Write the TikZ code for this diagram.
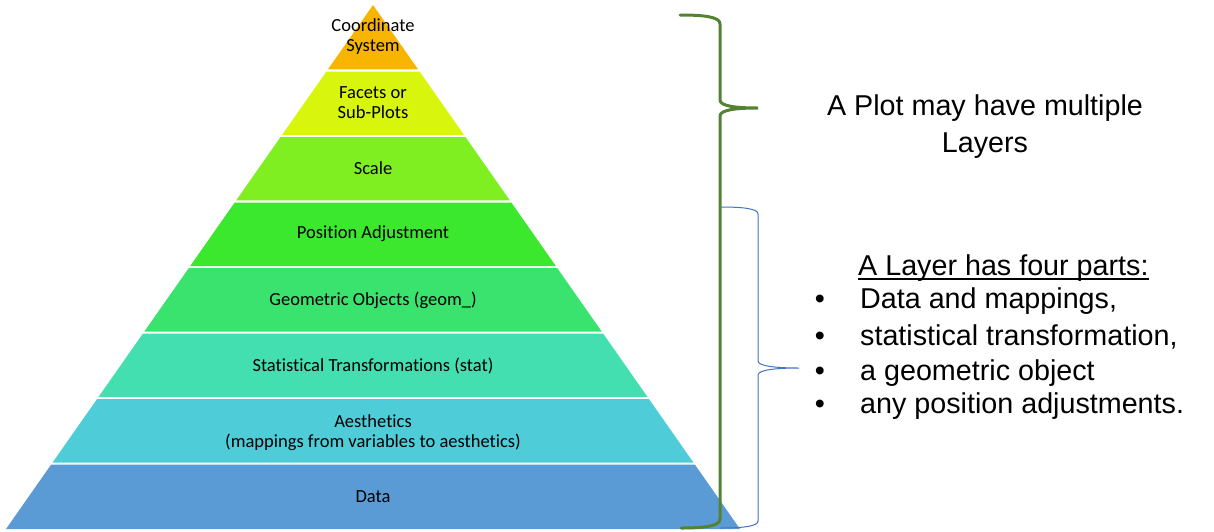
\documentclass[tikz,border=0pt]{standalone}
\usepackage{fontspec}
\newfontfamily\calib[Ligatures=NoCommon]{Carlito}
\newfontfamily\arialf{Liberation Sans}
\usetikzlibrary{calc}
\definecolor{cCoord}{HTML}{F7B500}
\definecolor{cFacet}{HTML}{D8F50E}
\definecolor{cScale}{HTML}{7FEF22}
\definecolor{cPos}{HTML}{3BE82E}
\definecolor{cGeom}{HTML}{3AE36E}
\definecolor{cStat}{HTML}{44DFB0}
\definecolor{cAes}{HTML}{4ECDD8}
\definecolor{cData}{HTML}{5B9BD5}
\definecolor{gBrace}{HTML}{548235}
\definecolor{bBrace}{HTML}{4472C4}
\tikzset{
  lay/.style={font=\calib\fontsize{18.5}{20}\selectfont, align=center, text=black, inner sep=0pt},
  rtext/.style={font=\arialf\fontsize{28.7}{34.5}\selectfont, text=black, inner sep=0pt},
  gbrace/.style={draw=gBrace, line width=3pt, line cap=round},
  bbrace/.style={draw=bBrace, line width=1pt}
}
\begin{document}
\begin{tikzpicture}[x=1pt,y=-1pt]
\useasboundingbox (0,0) rectangle (1214,531);
\coordinate (apex) at (373,5);
\coordinate (bl) at (6,529);
\coordinate (br) at (740,529);
\foreach \k/\col in {0/cCoord,1/cFacet,2/cScale,3/cPos,4/cGeom,5/cStat,6/cAes,7/cData} {
  \pgfmathsetmacro\ta{\k==0 ? 0 : (65.5*\k+1)/524}
  \pgfmathsetmacro\tb{\k==7 ? 1 : (65.5*(\k+1)-1)/524}
  \fill[\col] ($(apex)!\ta!(bl)$) -- ($(apex)!\tb!(bl)$) -- ($(apex)!\tb!(br)$) -- ($(apex)!\ta!(br)$) -- cycle;
}
\node[lay] (L1) at (373,37) {Coordinate\\System};
\node[lay] (L2) at (373,103) {Facets or\\Sub-Plots};
\node[lay] (L3) at (373,168) {Scale};
\node[lay] (L4) at (373,234) {Position Adjustment};
\node[lay] (L5) at (373,300) {Geometric Objects (geom\_)};
\node[lay] (L6) at (373,366) {Statistical Transformations (stat)};
\node[lay] (L7) at (373,433) {Aesthetics\\(mappings from variables to aesthetics)};
\node[lay] (L8) at (373,497) {Data};
% braces
\draw[gbrace] (680,15) .. controls (705,15) and (720,17) .. (720,24) -- (720,100) .. controls (720,106) and (735,108) .. (758,108) .. controls (735,108) and (720,110) .. (720,116) -- (720,519) .. controls (720,526) and (705,528) .. (681,528);
\draw[bbrace] (721,207) .. controls (745,207) and (758,209) .. (758,214) -- (758,361) .. controls (758,366) and (775,368) .. (799,368) .. controls (775,368) and (758,370) .. (758,375) -- (758,521) .. controls (758,526) and (745,528) .. (720,528);
% right texts
\node[rtext, anchor=base] (P1) at (985,115) {A Plot may have multiple};
\node[rtext, anchor=base] (P2) at (985,152) {Layers};
\node[rtext, anchor=base west] (H) at (858,275) {A Layer has four parts:};
\draw[line width=1.4pt] ([yshift=-4pt]H.base west) -- ([yshift=-4pt]H.base east);
\foreach \y/\t/\n in {308/{Data and mappings,}/b1, 345/{statistical transformation,}/b2, 380/{a geometric object}/b3, 413/{any position adjustments.}/b4} {
  \node[rtext, anchor=base] (\n d) at (820,\y) {\textbullet};
  \node[rtext, anchor=base west] (\n) at (860,\y) {\t};
}
\end{tikzpicture}
\end{document}
